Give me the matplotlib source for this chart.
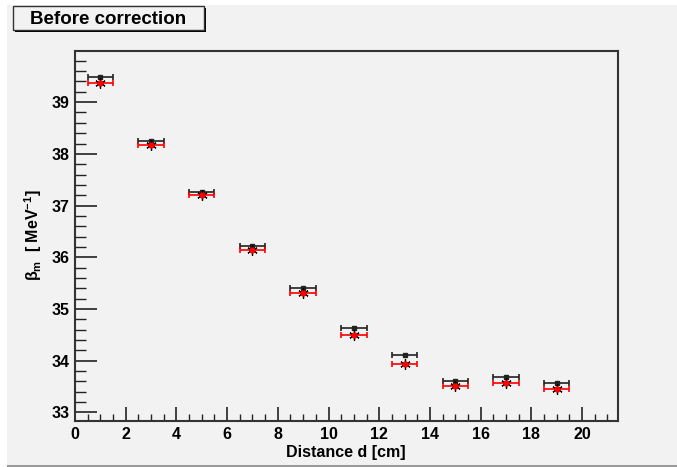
import numpy as np
import matplotlib
matplotlib.use("Agg")
import matplotlib.pyplot as plt
from matplotlib.patches import Rectangle
from matplotlib.ticker import MultipleLocator

# data
distance = [1, 3, 5, 7, 9, 11, 13, 15, 17, 19]
beta_before = [39.48, 38.25, 37.27, 36.22, 35.41, 34.63, 34.10, 33.61, 33.68, 33.57]
beta_corr = [39.38, 38.17, 37.21, 36.13, 35.30, 34.50, 33.93, 33.51, 33.56, 33.45]
x_err = [0.5] * len(distance)

plt.rcParams['font.family'] = ['Liberation Sans', 'DejaVu Sans']
plt.rcParams['mathtext.fontset'] = 'custom'
plt.rcParams['mathtext.rm'] = 'Liberation Sans:bold'
plt.rcParams['mathtext.it'] = 'Liberation Sans:bold'
plt.rcParams['mathtext.bf'] = 'Liberation Sans:bold'

W, H = 677, 467
fig = plt.figure(figsize=(W / 100, H / 100), dpi=100, facecolor='white')

# canvas background like ROOT
bg = '#f2f2f2'
fig.patches.append(Rectangle((7 / W, 1 / H), 1 - 7 / W, 1 - 6 / H, transform=fig.transFigure,
                             facecolor=bg, edgecolor='none', zorder=-10))
fig.patches.append(Rectangle((7 / W, 0), 1 - 7 / W, 2 / H, transform=fig.transFigure,
                             facecolor='#9a9a9a', edgecolor='none', zorder=-9))

ax = fig.add_axes([75 / W, 46 / H, (618 - 75) / W, (421 - 51) / H])
ax.set_facecolor(bg)

ax.errorbar(distance, beta_before, xerr=x_err, fmt='s', color='#222222', ms=3,
            elinewidth=1.2, capsize=2.5, capthick=1.2, zorder=3)
ax.errorbar(distance, beta_corr, xerr=x_err, fmt='none', ecolor='#ff0000',
            elinewidth=1.2, capsize=2.5, capthick=1.2, zorder=3)
ax.plot(distance, beta_corr, ls='none', marker=(6, 2, 0), ms=7.5, mec='black', mew=0.9, zorder=4)
ax.plot(distance, beta_corr, ls='none', marker='o', ms=3.5, mfc='#ff0000', mec='#ff0000', zorder=5)

ax.set_xlim(0, 21.42)
ax.set_ylim(32.83, 39.99)
ax.xaxis.set_major_locator(MultipleLocator(2))
ax.xaxis.set_minor_locator(MultipleLocator(0.5))
ax.yaxis.set_major_locator(MultipleLocator(1))
ax.yaxis.set_minor_locator(MultipleLocator(0.2))
ax.set_yticks([33, 34, 35, 36, 37, 38, 39])

ax.tick_params(axis='x', which='major', direction='in', length=10, width=1.2, color='#222222',
               labelsize=11.5, pad=4)
ax.tick_params(axis='x', which='minor', direction='in', length=5, width=1.0, color='#222222')
ax.tick_params(axis='y', which='major', direction='in', length=16, width=1.2, color='#222222',
               labelsize=11.5, pad=4)
ax.tick_params(axis='y', which='minor', direction='in', length=8, width=1.0, color='#222222')
for lab in ax.get_xticklabels() + ax.get_yticklabels():
    lab.set_fontweight('bold')

for side in ['left', 'bottom', 'top', 'right']:
    ax.spines[side].set_color('#333333')
    ax.spines[side].set_linewidth(1.5)

fig.text(346 / W, 1 - 452 / H, 'Distance d [cm]', ha='center', va='center',
         fontsize=11.5, fontweight='bold')
fig.text(33 / W, 1 - 235 / H, r'$\beta_{m}$  [ MeV$^{-1}$]', ha='center', va='center',
         rotation=90, fontsize=11.5, fontweight='bold')

# title box with shadow
fig.patches.append(Rectangle((15 / W, 1 - 32 / H), 191 / W, 24 / H, transform=fig.transFigure,
                             facecolor='black', edgecolor='none', zorder=5))
fig.patches.append(Rectangle((13 / W, 1 - 30 / H), 191 / W, 24 / H, transform=fig.transFigure,
                             facecolor=bg, edgecolor='#333333', lw=1.0, zorder=6))
fig.text(108.5 / W, 1 - 19.5 / H, 'Before correction', ha='center', va='center',
         fontsize=13.5, fontweight='bold', zorder=7)

fig.savefig('out.png', dpi=100, facecolor=fig.get_facecolor())
